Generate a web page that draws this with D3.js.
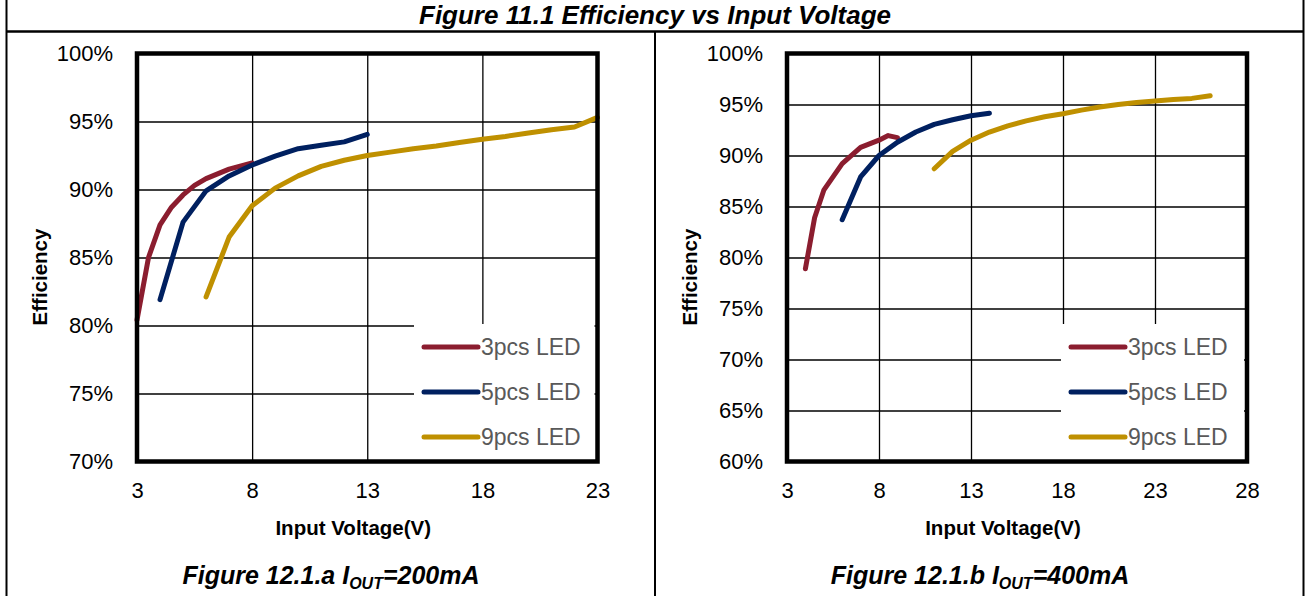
<!DOCTYPE html>
<html>
<head>
<meta charset="utf-8">
<script src="https://cdn.jsdelivr.net/npm/d3@7"></script>
<style>
  html, body { margin: 0; padding: 0; background: #fff; }
  svg { display: block; }
</style>
</head>
<body>
<div id="chart"></div>
<script>
// ---------- DATA ----------
const seriesNames = ["3pcs LED", "5pcs LED", "9pcs LED"];

// Figure 12.1.a  IOUT = 200mA
const vin200_3 = [3, 3.5, 4, 4.5, 5, 5.5, 6, 7, 8];
const eff200_3 = [80.4, 85.0, 87.4, 88.7, 89.6, 90.3, 90.8, 91.5, 91.95];
const vin200_5 = [4, 5, 6, 7, 8, 9, 10, 11, 12, 13];
const eff200_5 = [81.9, 87.6, 89.9, 91.0, 91.8, 92.45, 93.0, 93.25, 93.5, 94.05];
const vin200_9 = [6, 7, 8, 9, 10, 11, 12, 13, 14, 15, 16, 17, 18, 19, 20, 21, 22, 23];
const eff200_9 = [82.1, 86.5, 88.8, 90.1, 91.0, 91.7, 92.15, 92.5, 92.75, 93.0, 93.2, 93.45, 93.7, 93.9, 94.15, 94.4, 94.6, 95.3];

// Figure 12.1.b  IOUT = 400mA
const vin400_3 = [4, 4.5, 5, 6, 7, 8, 8.5, 9];
const eff400_3 = [78.9, 83.9, 86.6, 89.2, 90.8, 91.5, 91.95, 91.75];
const vin400_5 = [6, 7, 8, 9, 10, 11, 12, 13, 14];
const eff400_5 = [83.7, 87.9, 90.0, 91.3, 92.3, 93.05, 93.5, 93.9, 94.15];
const vin400_9 = [11, 12, 13, 14, 15, 16, 17, 18, 19, 20, 21, 22, 23, 24, 25, 26];
const eff400_9 = [88.7, 90.4, 91.5, 92.3, 92.9, 93.4, 93.8, 94.1, 94.45, 94.75, 95.0, 95.2, 95.35, 95.5, 95.6, 95.85];

// Ticks
const xTicksA = [3, 8, 13, 18, 23];
const yTicksA = [70, 75, 80, 85, 90, 95, 100];
const xTicksB = [3, 8, 13, 18, 23, 28];
const yTicksB = [60, 65, 70, 75, 80, 85, 90, 95, 100];

// Texts
const mainTitle = "Figure 11.1 Efficiency vs Input Voltage";
const xTitle = "Input Voltage(V)";
const yTitle = "Efficiency";
const captionA = ["Figure 12.1.a I", "OUT", "=200mA"];
const captionB = ["Figure 12.1.b I", "OUT", "=400mA"];

// ---------- STYLE ----------
const colors = ["#8B1D2F", "#002060", "#BF9000"];
const FONT = "'Liberation Sans', Arial, sans-serif";
const W = 1306, H = 596;

const svg = d3.select("#chart").append("svg")
  .attr("width", W).attr("height", H)
  .style("font-family", FONT);

svg.append("rect").attr("width", W).attr("height", H).attr("fill", "#fff");

// outer frame
svg.append("line").attr("x1", 6.5).attr("x2", 6.5).attr("y1", 0).attr("y2", H)
  .attr("stroke", "#000").attr("stroke-width", 2);
svg.append("line").attr("x1", 1303.5).attr("x2", 1303.5).attr("y1", 0).attr("y2", H)
  .attr("stroke", "#000").attr("stroke-width", 2);
svg.append("line").attr("x1", 6).attr("x2", 1304).attr("y1", 31.5).attr("y2", 31.5)
  .attr("stroke", "#000").attr("stroke-width", 2.5);
svg.append("line").attr("x1", 655).attr("x2", 655).attr("y1", 31).attr("y2", H)
  .attr("stroke", "#000").attr("stroke-width", 2);

svg.append("text").attr("x", 655).attr("y", 24)
  .attr("text-anchor", "middle")
  .attr("font-size", 26).attr("font-weight", "bold").attr("font-style", "italic")
  .text(mainTitle);

function drawChart(cfg) {
  const x = d3.scaleLinear().domain(cfg.xDomain).range([cfg.left, cfg.right]);
  const y = d3.scaleLinear().domain(cfg.yDomain).range([cfg.bottom, cfg.top]);
  const g = svg.append("g");
  const pw = cfg.right - cfg.left, ph = cfg.bottom - cfg.top;

  // grid via axes
  g.append("g").attr("transform", `translate(${cfg.left},0)`)
    .call(d3.axisLeft(y).tickValues(cfg.yTicks).tickSize(-pw).tickFormat(""))
    .call(s => s.select(".domain").remove())
    .call(s => s.selectAll("line").attr("stroke", "#000").attr("stroke-width", 1.3));
  g.append("g").attr("transform", `translate(0,${cfg.bottom})`)
    .call(d3.axisBottom(x).tickValues(cfg.xTicks).tickSize(-ph).tickFormat(""))
    .call(s => s.select(".domain").remove())
    .call(s => s.selectAll("line").attr("stroke", "#000").attr("stroke-width", 1.3));

  // legend background (covers grid)
  g.append("rect")
    .attr("x", cfg.legend.x).attr("y", cfg.legend.y)
    .attr("width", cfg.right - 3 - cfg.legend.x).attr("height", cfg.bottom - cfg.legend.y)
    .attr("fill", "#fff");

  // series lines
  const line = d3.line().x(d => x(d[0])).y(d => y(d[1]));
  cfg.series.forEach((s, i) => {
    g.append("path")
      .datum(d3.zip(s[0], s[1]))
      .attr("d", line)
      .attr("fill", "none")
      .attr("stroke", colors[i])
      .attr("stroke-width", 5)
      .attr("stroke-linejoin", "round")
      .attr("stroke-linecap", "round");
  });

  // thick frame
  g.append("rect")
    .attr("x", cfg.left).attr("y", cfg.top).attr("width", pw).attr("height", ph)
    .attr("fill", "none").attr("stroke", "#000").attr("stroke-width", 4.5);

  // tick labels via axes
  g.append("g").attr("transform", `translate(${cfg.left},0)`)
    .call(d3.axisLeft(y).tickValues(cfg.yTicks).tickSize(0).tickPadding(24).tickFormat(d => d + "%"))
    .call(s => s.select(".domain").remove())
    .call(s => s.selectAll("text").attr("font-size", 22).attr("font-family", FONT).attr("fill", "#000"));
  g.append("g").attr("transform", `translate(0,${cfg.bottom})`)
    .call(d3.axisBottom(x).tickValues(cfg.xTicks).tickSize(0).tickPadding(0).tickFormat(d3.format("d")))
    .call(s => s.select(".domain").remove())
    .call(s => s.selectAll("text").attr("font-size", 22).attr("font-family", FONT).attr("fill", "#000")
      .attr("dy", null).attr("y", 36));

  // axis titles
  g.append("text")
    .attr("x", (cfg.left + cfg.right) / 2 - 14).attr("y", 535)
    .attr("text-anchor", "middle").attr("font-size", 20.5).attr("font-weight", "bold")
    .text(xTitle);
  g.append("text")
    .attr("transform", `translate(${cfg.yTitleX},277) rotate(-90)`)
    .attr("text-anchor", "middle").attr("font-size", 20.5).attr("font-weight", "bold")
    .text(yTitle);

  // legend entries
  seriesNames.forEach((name, i) => {
    const ly = 347 + i * 45;
    g.append("line")
      .attr("x1", cfg.legend.x + 10).attr("x2", cfg.legend.x + 64)
      .attr("y1", ly).attr("y2", ly)
      .attr("stroke", colors[i]).attr("stroke-width", 5).attr("stroke-linecap", "round");
    g.append("text")
      .attr("x", cfg.legend.x + 67).attr("y", ly).attr("dy", "0.36em")
      .attr("font-size", 23).attr("fill", "#595959")
      .text(name);
  });

  // caption
  const cap = g.append("text")
    .attr("x", cfg.captionX).attr("y", 584)
    .attr("text-anchor", "middle").attr("font-size", 25)
    .attr("font-weight", "bold").attr("font-style", "italic");
  cap.append("tspan").text(cfg.caption[0]);
  cap.append("tspan").attr("font-size", 16).attr("dy", 5).text(cfg.caption[1]);
  cap.append("tspan").attr("dy", -5).text(cfg.caption[2]);
}

drawChart({
  left: 137, right: 597.5, top: 53.5, bottom: 461.5,
  xDomain: [3, 23], yDomain: [70, 100],
  xTicks: xTicksA, yTicks: yTicksA,
  series: [[vin200_3, eff200_3], [vin200_5, eff200_5], [vin200_9, eff200_9]],
  legend: { x: 414, y: 324 },
  yTitleX: 46.5, captionX: 331,
  caption: captionA
});

drawChart({
  left: 787, right: 1247, top: 53.5, bottom: 461.5,
  xDomain: [3, 28], yDomain: [60, 100],
  xTicks: xTicksB, yTicks: yTicksB,
  series: [[vin400_3, eff400_3], [vin400_5, eff400_5], [vin400_9, eff400_9]],
  legend: { x: 1061, y: 324 },
  yTitleX: 696.5, captionX: 980,
  caption: captionB
});
</script>
</body>
</html>
